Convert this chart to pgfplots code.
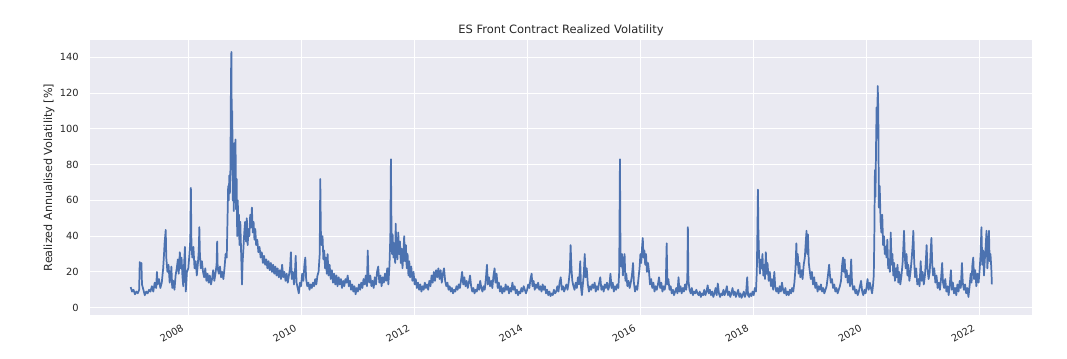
\documentclass[border=0pt]{standalone}
\usepackage{pgfplots}
\pgfplotsset{compat=1.18}
\usepackage{fontspec}
\setmainfont{DejaVu Sans}
\definecolor{sbbg}{HTML}{EAEAF2}
\definecolor{sbblue}{HTML}{4C72B0}
\definecolor{sbtext}{HTML}{262626}
\begin{document}
\begin{tikzpicture}
\useasboundingbox (-67.5pt,-32.25pt) rectangle (732.75pt,236.25pt);
\begin{axis}[
  at={(0pt,0pt)}, anchor=south west,
  scale only axis, width=706.5pt, height=206.25pt,
  xmin=2006.26, xmax=2022.93, ymin=-4.1, ymax=149.7,
  axis background/.style={fill=sbbg},
  axis line style={draw=none},
  major tick length=0pt,
  grid=major, major grid style={white, line width=0.8pt},
  xtick={2008,2010,2012,2014,2016,2018,2020,2022},
  xticklabels={2008,2010,2012,2014,2016,2018,2020,2022},
  ytick={0,20,40,60,80,100,120,140},
  /pgf/number format/assume math mode=true,
  tick label style={font=\fontsize{7.4pt}{8pt}\selectfont, text=sbtext},
  yticklabel style={anchor=east, inner sep=0pt, xshift=-8.25pt},
  xticklabel style={xshift=-5.6pt, yshift=-6.2pt, rotate=30, anchor=north east, inner sep=0pt},
  ylabel={Realized Annualised Volatility [\%]},
  every axis y label/.style={at={(axis description cs:-0.0435,0.5)}, rotate=90, anchor=center, font=\fontsize{8.4pt}{10pt}\selectfont, text=sbtext},
  title={ES Front Contract Realized Volatility},
  every axis title/.style={at={(axis description cs:0.5,1)}, anchor=base, yshift=4.5pt, font=\fontsize{8.6pt}{10pt}\selectfont, text=sbtext},
]
\addplot[sbblue, line width=1.3pt, line join=round] coordinates {
(2006.980,11.5) (2007.005,9) (2007.030,10) (2007.055,7.5) (2007.080,9) (2007.105,8) (2007.130,10) (2007.140,25.5) (2007.155,24) (2007.170,25)
(2007.180,13) (2007.205,10) (2007.230,7) (2007.255,9) (2007.280,8) (2007.305,10) (2007.330,9) (2007.355,12) (2007.380,9) (2007.405,14)
(2007.430,11) (2007.445,20) (2007.455,13) (2007.480,16) (2007.505,11) (2007.530,14) (2007.555,22) (2007.570,30) (2007.580,36) (2007.600,43.5)
(2007.610,28) (2007.630,20) (2007.650,24) (2007.670,14) (2007.690,18) (2007.700,23) (2007.715,11) (2007.735,15) (2007.755,10) (2007.775,18)
(2007.795,22) (2007.815,27) (2007.830,19) (2007.850,31) (2007.865,22) (2007.880,28) (2007.895,18) (2007.910,12) (2007.925,24) (2007.940,34)
(2007.955,9) (2007.975,20)
(2008.000,22) (2008.020,30) (2008.035,38) (2008.045,67) (2008.055,36) (2008.070,28) (2008.090,34) (2008.110,22) (2008.130,26) (2008.150,18)
(2008.170,25) (2008.185,32) (2008.195,45) (2008.205,30) (2008.220,22) (2008.240,26) (2008.260,20) (2008.280,17) (2008.300,22) (2008.320,15)
(2008.340,19) (2008.360,14) (2008.380,18) (2008.400,13) (2008.420,16) (2008.440,21) (2008.460,15) (2008.480,19) (2008.500,24) (2008.510,37)
(2008.520,22) (2008.540,19) (2008.560,23) (2008.580,17) (2008.600,20) (2008.620,16) (2008.640,22) (2008.660,30) (2008.680,28) (2008.695,52)
(2008.705,68) (2008.715,60) (2008.725,74) (2008.735,64) (2008.745,78) (2008.755,130) (2008.762,143) (2008.770,95) (2008.778,110) (2008.786,60)
(2008.795,82) (2008.805,54) (2008.815,92) (2008.825,68) (2008.835,94) (2008.845,55) (2008.855,72) (2008.865,40) (2008.875,60) (2008.885,45)
(2008.895,52) (2008.905,35) (2008.920,48) (2008.935,30) (2008.950,13) (2008.960,25) (2008.975,33) (2008.990,42)
(2009.005,48) (2009.020,37) (2009.035,50) (2009.050,35) (2009.065,44) (2009.080,40) (2009.095,52) (2009.110,45) (2009.125,56) (2009.140,42)
(2009.155,48) (2009.170,38) (2009.185,44) (2009.200,35) (2009.220,38) (2009.240,31) (2009.260,34) (2009.280,28) (2009.300,31) (2009.320,25)
(2009.340,29) (2009.360,24) (2009.380,27) (2009.400,22) (2009.420,26) (2009.440,21) (2009.460,25) (2009.480,20) (2009.500,24) (2009.520,19)
(2009.540,23) (2009.560,18) (2009.580,22) (2009.600,17) (2009.620,21) (2009.640,16) (2009.660,24) (2009.680,17) (2009.700,20) (2009.720,15)
(2009.740,19) (2009.760,14) (2009.780,18) (2009.800,22) (2009.815,31) (2009.830,16) (2009.850,20) (2009.870,13) (2009.890,22) (2009.900,29)
(2009.915,14) (2009.935,11) (2009.955,8) (2009.975,14) (2009.995,12)
(2010.015,19) (2010.035,15) (2010.055,24) (2010.070,28) (2010.085,16) (2010.105,12) (2010.125,14) (2010.145,10) (2010.165,13) (2010.185,11)
(2010.205,14) (2010.225,12) (2010.245,16) (2010.265,13) (2010.285,18) (2010.305,20) (2010.325,30) (2010.335,72) (2010.345,43) (2010.360,35)
(2010.375,40) (2010.390,27) (2010.405,32) (2010.420,22) (2010.435,28) (2010.450,19) (2010.465,30) (2010.480,18) (2010.500,24) (2010.520,16)
(2010.540,21) (2010.560,14) (2010.580,19) (2010.600,13) (2010.620,18) (2010.640,12) (2010.660,17) (2010.680,13) (2010.700,16) (2010.720,11)
(2010.740,15) (2010.760,12) (2010.780,16) (2010.800,14) (2010.820,18) (2010.840,12) (2010.860,15) (2010.880,10) (2010.900,13) (2010.920,9)
(2010.940,12) (2010.960,7.5) (2010.980,11)
(2011.000,9) (2011.020,13) (2011.040,10) (2011.060,14) (2011.080,11) (2011.100,16) (2011.120,13) (2011.140,18) (2011.160,12) (2011.175,32)
(2011.185,20) (2011.200,14) (2011.220,18) (2011.240,12) (2011.260,15) (2011.280,11) (2011.300,17) (2011.320,13) (2011.340,20) (2011.360,23)
(2011.380,14) (2011.400,18) (2011.420,12) (2011.440,17) (2011.460,14) (2011.480,19) (2011.500,15) (2011.520,22) (2011.540,13) (2011.560,24)
(2011.575,40) (2011.585,83) (2011.595,45) (2011.605,30) (2011.615,41) (2011.630,28) (2011.645,36) (2011.660,25) (2011.670,47) (2011.680,32)
(2011.690,38) (2011.700,27) (2011.715,42) (2011.730,30) (2011.745,37) (2011.760,25) (2011.775,33) (2011.790,22) (2011.805,30) (2011.820,40)
(2011.835,26) (2011.850,35) (2011.865,22) (2011.880,30) (2011.895,18) (2011.910,26) (2011.925,17) (2011.945,23) (2011.965,15) (2011.985,20)
(2012.005,13) (2012.025,16) (2012.045,11) (2012.065,14) (2012.085,10) (2012.105,13) (2012.125,9) (2012.145,12) (2012.165,10) (2012.185,14)
(2012.205,11) (2012.225,13) (2012.245,10) (2012.265,15) (2012.285,12) (2012.305,18) (2012.325,14) (2012.345,20) (2012.365,15) (2012.385,21)
(2012.405,17) (2012.425,22) (2012.445,16) (2012.465,21) (2012.485,14) (2012.505,19) (2012.525,22) (2012.545,15) (2012.565,12) (2012.585,14)
(2012.605,10) (2012.625,12) (2012.645,9) (2012.665,11) (2012.685,8) (2012.705,10) (2012.725,9) (2012.745,12) (2012.765,10) (2012.785,13)
(2012.805,11) (2012.825,15) (2012.845,20) (2012.865,13) (2012.885,17) (2012.905,12) (2012.925,15) (2012.945,11) (2012.965,14) (2012.985,18)
(2013.005,12) (2013.025,9) (2013.045,11) (2013.065,8) (2013.085,10) (2013.105,9) (2013.125,13) (2013.145,10) (2013.165,15) (2013.185,11)
(2013.205,9) (2013.225,12) (2013.245,10) (2013.265,16) (2013.285,24) (2013.300,13) (2013.320,17) (2013.340,12) (2013.360,15) (2013.380,11)
(2013.400,18) (2013.420,22) (2013.435,14) (2013.455,19) (2013.475,11) (2013.495,14) (2013.515,9) (2013.535,12) (2013.555,8) (2013.575,11)
(2013.595,9) (2013.615,13) (2013.635,10) (2013.655,12) (2013.675,8) (2013.695,11) (2013.715,9) (2013.735,14) (2013.755,10) (2013.775,12)
(2013.795,8) (2013.815,10) (2013.835,7) (2013.855,9) (2013.875,8) (2013.895,11) (2013.915,9) (2013.935,12) (2013.955,10) (2013.975,8)
(2013.995,10) (2014.015,13) (2014.035,11) (2014.055,16) (2014.075,19) (2014.090,12) (2014.110,15) (2014.130,10) (2014.150,13) (2014.170,11)
(2014.190,14) (2014.210,10) (2014.230,12) (2014.250,9) (2014.270,13) (2014.290,10) (2014.310,12) (2014.330,8) (2014.350,10) (2014.370,7)
(2014.390,9) (2014.410,6.5) (2014.430,8) (2014.450,7) (2014.470,10) (2014.490,8) (2014.510,9) (2014.530,12) (2014.550,9) (2014.570,14)
(2014.590,17) (2014.610,10) (2014.630,12) (2014.650,9) (2014.670,11) (2014.690,13) (2014.710,10) (2014.730,14) (2014.750,20) (2014.765,35)
(2014.780,22) (2014.795,15) (2014.815,12) (2014.835,10) (2014.855,14) (2014.875,11) (2014.895,17) (2014.915,13) (2014.935,26) (2014.950,11)
(2014.965,7) (2014.985,14)
(2015.000,20) (2015.015,30) (2015.030,17) (2015.050,22) (2015.070,13) (2015.090,9) (2015.110,12) (2015.130,10) (2015.150,13) (2015.170,11)
(2015.190,14) (2015.210,9) (2015.230,12) (2015.250,10) (2015.270,14) (2015.290,17) (2015.310,10) (2015.330,12) (2015.350,9) (2015.370,13)
(2015.390,11) (2015.410,14) (2015.430,10) (2015.450,12) (2015.470,19) (2015.490,11) (2015.510,14) (2015.530,9) (2015.550,12) (2015.570,10)
(2015.590,13) (2015.610,11) (2015.625,20) (2015.638,83) (2015.648,30) (2015.660,23) (2015.675,30) (2015.690,18) (2015.705,24) (2015.720,30)
(2015.735,15) (2015.750,19) (2015.770,12) (2015.790,15) (2015.810,11) (2015.830,14) (2015.850,18) (2015.870,25) (2015.885,14) (2015.905,9)
(2015.925,12) (2015.945,10) (2015.965,16) (2015.985,22)
(2016.000,30) (2016.015,25) (2016.030,34) (2016.042,39) (2016.055,28) (2016.070,32) (2016.085,24) (2016.100,30) (2016.115,20) (2016.135,25)
(2016.150,21) (2016.170,13) (2016.190,16) (2016.210,11) (2016.230,14) (2016.250,9) (2016.270,12) (2016.290,10) (2016.310,13) (2016.330,17)
(2016.350,11) (2016.370,14) (2016.390,9) (2016.410,12) (2016.430,10) (2016.450,14) (2016.465,36) (2016.478,13) (2016.495,16) (2016.515,10)
(2016.535,12) (2016.555,8) (2016.575,10) (2016.595,7) (2016.615,9) (2016.635,11) (2016.655,8) (2016.675,17) (2016.690,9) (2016.710,12)
(2016.730,8) (2016.750,11) (2016.770,9) (2016.790,13) (2016.810,10) (2016.830,16) (2016.840,45) (2016.850,15) (2016.870,10) (2016.890,8)
(2016.910,11) (2016.930,7) (2016.950,9) (2016.970,8) (2016.990,10)
(2017.010,8) (2017.030,7) (2017.050,9) (2017.070,6) (2017.090,8) (2017.110,7) (2017.130,10) (2017.150,7) (2017.170,9) (2017.190,12.5)
(2017.210,8) (2017.230,10) (2017.250,7) (2017.270,9) (2017.290,6) (2017.310,8) (2017.330,11) (2017.350,7) (2017.370,13.5) (2017.390,8)
(2017.410,6) (2017.430,8) (2017.450,7) (2017.470,10) (2017.490,7) (2017.510,9) (2017.530,12) (2017.550,7) (2017.570,9) (2017.590,6)
(2017.610,8) (2017.630,11) (2017.650,7) (2017.670,9) (2017.690,6) (2017.710,8) (2017.730,10) (2017.750,6) (2017.770,8) (2017.790,5.5)
(2017.810,7) (2017.830,9) (2017.850,6) (2017.870,8) (2017.890,17) (2017.905,7) (2017.925,6) (2017.945,8) (2017.965,6.5) (2017.985,9)
(2018.005,7) (2018.025,11) (2018.045,9) (2018.060,20) (2018.072,45) (2018.080,66) (2018.088,43) (2018.100,28) (2018.115,19) (2018.130,27)
(2018.145,22) (2018.160,30) (2018.175,18) (2018.190,24) (2018.205,16) (2018.220,31) (2018.235,19) (2018.250,25) (2018.270,15) (2018.290,20)
(2018.310,12) (2018.330,16) (2018.350,10) (2018.370,20) (2018.385,12) (2018.405,9) (2018.425,11) (2018.445,8) (2018.465,12) (2018.485,9)
(2018.505,14) (2018.525,10) (2018.545,8) (2018.565,11) (2018.585,7) (2018.605,9) (2018.625,7) (2018.645,10) (2018.665,8) (2018.685,11)
(2018.705,9) (2018.725,14) (2018.745,22) (2018.760,36) (2018.770,24) (2018.785,30) (2018.800,19) (2018.815,25) (2018.830,17) (2018.850,21)
(2018.870,16) (2018.890,24) (2018.910,28) (2018.925,36) (2018.940,43) (2018.952,30) (2018.965,41) (2018.980,25) (2018.995,21)
(2019.015,16) (2019.035,20) (2019.055,13) (2019.075,17) (2019.095,11) (2019.115,14) (2019.135,9) (2019.155,12) (2019.175,10) (2019.195,13)
(2019.215,9) (2019.235,11) (2019.255,8) (2019.275,10) (2019.295,12) (2019.315,17) (2019.340,24) (2019.355,18) (2019.370,14) (2019.390,16)
(2019.410,11) (2019.430,13) (2019.450,9) (2019.470,11) (2019.490,8) (2019.510,10) (2019.530,12) (2019.550,15) (2019.570,24) (2019.585,28)
(2019.600,20) (2019.615,27) (2019.630,17) (2019.650,21) (2019.670,14) (2019.690,18) (2019.710,12) (2019.730,27) (2019.745,14) (2019.765,10)
(2019.785,12) (2019.805,8) (2019.825,10) (2019.845,7) (2019.865,9) (2019.885,12) (2019.905,15) (2019.925,9) (2019.945,7) (2019.965,10)
(2019.985,8)
(2020.005,12) (2020.020,16) (2020.040,10) (2020.060,14) (2020.080,11) (2020.100,8) (2020.115,12) (2020.130,18) (2020.140,40) (2020.150,77)
(2020.160,62) (2020.170,90) (2020.180,112) (2020.190,95) (2020.200,124) (2020.210,110) (2020.220,56) (2020.235,68) (2020.250,48) (2020.265,42)
(2020.280,52) (2020.295,35) (2020.310,40) (2020.325,30) (2020.340,34) (2020.355,28) (2020.370,38) (2020.385,22) (2020.400,27) (2020.415,20)
(2020.430,42) (2020.445,24) (2020.460,30) (2020.475,18) (2020.490,25) (2020.505,15) (2020.520,22) (2020.535,17) (2020.550,24) (2020.565,14)
(2020.580,20) (2020.600,13) (2020.620,18) (2020.640,25) (2020.655,35) (2020.665,43) (2020.680,28) (2020.695,22) (2020.710,30) (2020.725,18)
(2020.740,24) (2020.760,15) (2020.780,20) (2020.800,27) (2020.820,36) (2020.830,43) (2020.845,26) (2020.860,17) (2020.880,22) (2020.900,13)
(2020.920,16) (2020.940,12) (2020.960,26) (2020.975,15) (2020.995,20)
(2021.015,13) (2021.035,18) (2021.050,25) (2021.065,35) (2021.080,22) (2021.100,16) (2021.120,20) (2021.135,30) (2021.150,39) (2021.165,24)
(2021.180,18) (2021.200,22) (2021.220,14) (2021.240,18) (2021.260,11) (2021.280,14) (2021.300,10) (2021.320,16) (2021.340,25) (2021.355,14)
(2021.375,11) (2021.395,16) (2021.415,9) (2021.435,12) (2021.455,7) (2021.475,13) (2021.495,21) (2021.510,10) (2021.530,14) (2021.550,8)
(2021.570,11) (2021.590,7) (2021.610,13) (2021.630,9) (2021.650,15) (2021.670,11) (2021.690,25) (2021.705,14) (2021.725,10) (2021.745,13)
(2021.765,8) (2021.785,11) (2021.805,6) (2021.825,12) (2021.845,19) (2021.860,14) (2021.875,24) (2021.890,28) (2021.905,16) (2021.925,21)
(2021.945,12) (2021.965,19) (2021.985,14)
(2022.005,22) (2022.020,30) (2022.035,45) (2022.050,24) (2022.065,32) (2022.080,18) (2022.095,27) (2022.110,34) (2022.125,43) (2022.140,22)
(2022.155,30) (2022.168,43) (2022.180,26) (2022.195,30) (2022.210,22) (2022.220,13)
};
\end{axis}
\end{tikzpicture}
\end{document}
